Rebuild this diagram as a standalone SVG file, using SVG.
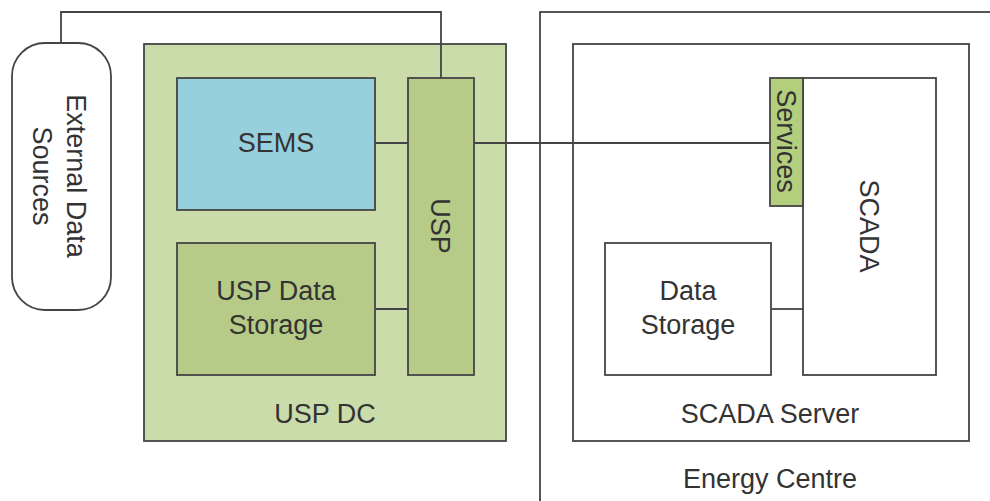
<svg xmlns="http://www.w3.org/2000/svg" width="990" height="501" viewBox="0 0 990 501">
<style>
.b{stroke:#444;stroke-width:1.8}
.t{font-family:"Liberation Sans",Arial,sans-serif;font-size:27px;fill:#333;text-anchor:middle}
.c{fill:none;stroke:#444;stroke-width:1.8}
</style>
<rect width="990" height="501" fill="#fff"/>
<g id="energy-centre">
<rect class="b" x="540" y="12" width="520" height="520" fill="#fff"/>
<text class="t" x="770" y="488">Energy Centre</text>
</g>
<g id="scada-server">
<rect class="b" x="573" y="44" width="396" height="397" fill="#fff"/>
<text class="t" x="770" y="423">SCADA Server</text>
</g>
<g id="usp-dc">
<rect class="b" x="144" y="44" width="362" height="397" fill="#cbdcab"/>
<text class="t" x="325" y="423">USP DC</text>
</g>
<g id="external">
<rect class="b" x="12" y="43" width="99" height="267" rx="33" ry="33" fill="#fff"/>
<text class="t" transform="translate(61,176) rotate(90)"><tspan x="0" y="-6">External Data</tspan><tspan x="0" y="28">Sources</tspan></text>
</g>
<g id="sems">
<rect class="b" x="177" y="78" width="198" height="132" fill="#98cfdd"/>
<text class="t" x="276" y="152">SEMS</text>
</g>
<g id="usp-data-storage">
<rect class="b" x="177" y="243" width="198" height="132" fill="#b7cb88"/>
<text class="t" x="276" y="300">USP Data</text>
<text class="t" x="276" y="334">Storage</text>
</g>
<g id="usp">
<rect class="b" x="408" y="78" width="66" height="297" fill="#b7cb88"/>
<text class="t" transform="translate(441,226) rotate(90)" y="10">USP</text>
</g>
<g id="scada">
<rect class="b" x="803" y="78" width="133" height="297" fill="#fff"/>
<text class="t" transform="translate(869.5,226) rotate(90)" y="10">SCADA</text>
</g>
<g id="services">
<rect class="b" x="770" y="78" width="33" height="128" fill="#b3cf7e"/>
<text class="t" transform="translate(786.5,141) rotate(90)" y="9.5">Services</text>
</g>
<g id="data-storage">
<rect class="b" x="605" y="243" width="166" height="132" fill="#fff"/>
<text class="t" x="688" y="300">Data</text>
<text class="t" x="688" y="334">Storage</text>
</g>
<g id="connectors">
<path class="c" d="M61 43 V12 H441 V78"/>
<path class="c" d="M375 143 H408"/>
<path class="c" d="M375 309 H408"/>
<path class="c" d="M474 143 H770"/>
<path class="c" d="M771 309 H803"/>
</g>
</svg>
